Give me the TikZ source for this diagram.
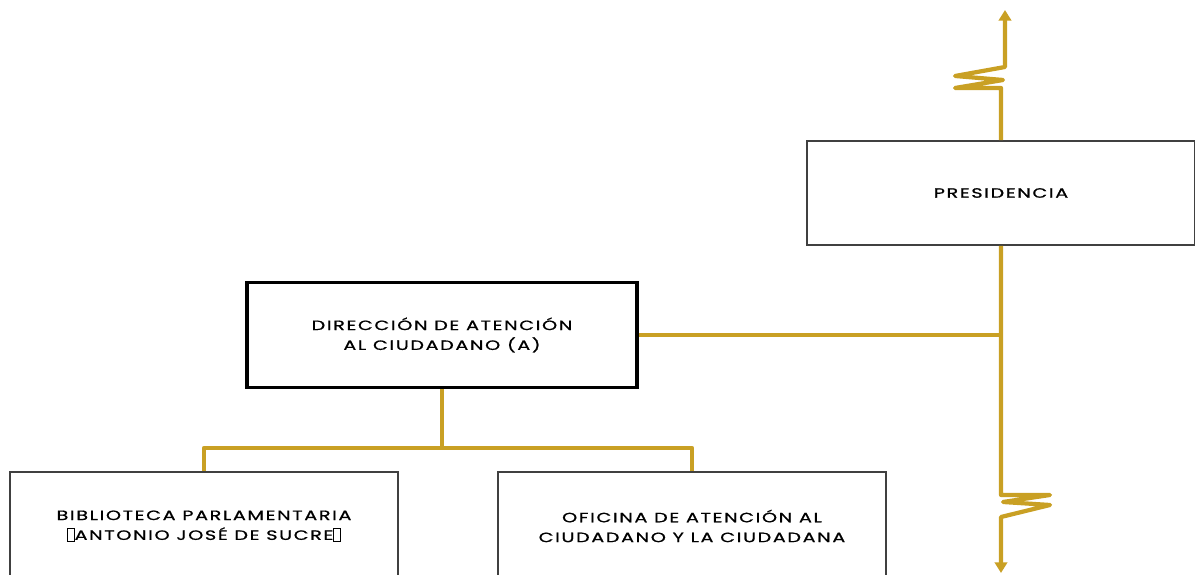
\documentclass[tikz,border=0pt]{standalone}
\usepackage{fontspec}
\setmainfont{Poppins}[LetterSpace=12.0, FakeStretch=1.42, FakeBold=0.9]
\usetikzlibrary{arrows.meta}
\definecolor{oro}{RGB}{201,160,36}
\newcommand{\tofu}{\raisebox{-.5pt}{\fboxsep=0pt\fboxrule=.4pt\fbox{\rule{3.5pt}{0pt}\rule{0pt}{7pt}}}}
\tikzset{
  caja/.style={draw=black!75, line width=.9pt, fill=white, align=center,
    minimum width=7.76cm, minimum height=2.08cm, inner sep=0pt},
  enlace/.style={draw=oro, line width=2.4pt, line join=round},
  tipo/.style={-{Triangle[width=7pt,length=6pt]}}
}
\begin{document}
\begin{tikzpicture}[font=\fontsize{7.7}{11.3}\selectfont]
		\useasboundingbox (0,0) rectangle (23.9,11.5);
		\clip (0,0) rectangle (23.9,11.5);
		\node[caja] (pres) at (20.02,7.64) {PRESIDENCIA};
		\node[caja, draw=black, line width=2.2pt, minimum width=7.8cm, minimum height=2.1cm] (dir) at (8.84,4.8) {DIRECCIÓN DE ATENCIÓN\\AL CIUDADANO (A)};
		\node[caja, minimum height=2.16cm] (bib) at (4.08,0.98) {BIBLIOTECA PARLAMENTARIA\\\tofu ANTONIO JOSÉ DE SUCRE\tofu};
		\node[caja, minimum height=2.16cm] (ofi) at (13.84,0.98) {OFICINA DE ATENCIÓN AL\\CIUDADANO Y LA CIUDADANA};
		\coordinate (arriba) at (20.1,11.3);
		\coordinate (abajo) at (20.02,0.04);
		\coordinate (bus) at (8.84,2.54);
		% linea de mando
		\draw[enlace, tipo] (pres.north) -- (20.02,9.74) -- (19.1,9.74) -- (20.06,9.9) -- (19.1,9.98) -- (20.1,10.16) -- (arriba);
		\draw[enlace, tipo] (pres.south) -- (20.02,1.6) -- (21,1.6) -- (20.06,1.46) -- (21,1.4) -- (20.02,1.16) -- (abajo);
		\draw[enlace] (dir.east) -- (dir.east -| pres);
		\draw[enlace] (dir.south) -- (bus) (bib.north) |- (bus) -| (ofi.north);
		\end{tikzpicture}
\end{document}
